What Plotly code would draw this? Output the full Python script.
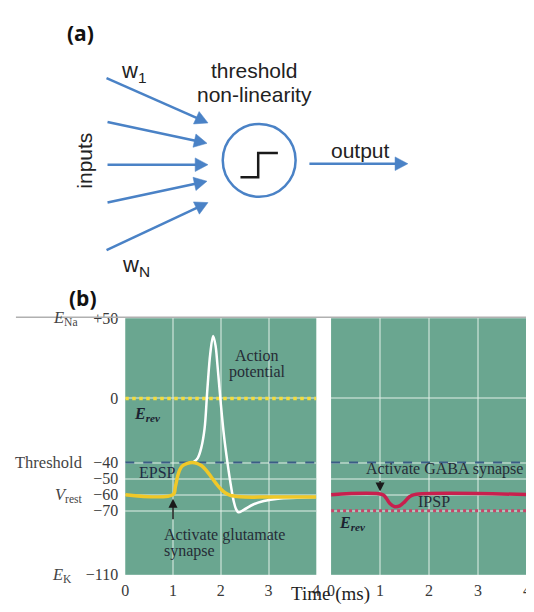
import math
import plotly.graph_objects as go

# ---------------- data ----------------
time_ticks = [0, 1, 2, 3, 4]
mv_tickvals = [50, 0, -40, -50, -60, -70, -110]
mv_ticktext = ["+50", "0", "\u221240", "\u221250", "\u221260", "\u221270", "\u2212110"]
level_names = ["<i>E</i><sub>Na</sub>", "Threshold", "<i>V</i><sub>rest</sub>", "<i>E</i><sub>K</sub>"]
level_values = [50, -40, -60, -110]

threshold_mv = -40
epsp_erev_mv = 0
ipsp_erev_mv = -70
time_span = [0, 4]
time_span_right = [0, 4.06]

epsp_t = [0, 1.0, 1.05, 1.1, 1.15, 1.2, 1.3, 1.4, 1.5, 1.6, 1.7, 1.8, 1.9, 2.0, 2.1, 2.2, 2.3, 2.5, 3.0, 4.0]
epsp_v = [-60, -60, -55, -48, -44, -42, -40.5, -40, -40.5, -42, -45, -49, -53, -56.5, -59, -60.5, -61, -61.5, -61.5, -61.5]

ap_t = [1.40, 1.46, 1.52, 1.59, 1.66, 1.72, 1.78, 1.84, 1.89, 1.93, 2.00, 2.07, 2.14, 2.21, 2.27, 2.32, 2.37, 2.48, 2.69, 2.9, 3.2, 3.6, 4.0]
ap_v = [-40, -39, -37, -31, -19, 6, 28, 39, 33, 21, -3, -24, -40, -54, -64, -69, -71, -69.5, -66, -64, -62.5, -62, -61.5]

ipsp_t = [0, 1.05, 1.12, 1.2, 1.3, 1.4, 1.5, 1.6, 1.7, 4.06]
ipsp_v = [-60, -60, -62, -65.5, -67.5, -67, -64.5, -61.3, -60, -60]

# ---------------- styling ----------------
# the page body has an 8px margin; the figure fills the rest of the window
OFF = 8
W, H = 534 - OFF, 612 - OFF
GREEN = "#6aa690"
GRID = "rgba(225,240,232,0.5)"
BLUE = "#4a82c6"
SERIF = "Liberation Serif"
SANS = "Liberation Sans"
DARK = "#262c36"


def px(x):
    return (x - OFF) / W


def py(y):
    return 1 - (y - OFF) / H


fig = go.Figure()

# ---------------- panel (b) traces ----------------
fig.add_trace(go.Scatter(x=time_span, y=[epsp_erev_mv] * 2, mode="lines",
                         line=dict(color="#f3dc3c", width=3.5, dash="dot"),
                         xaxis="x", yaxis="y", hoverinfo="skip"))
fig.add_trace(go.Scatter(x=time_span, y=[threshold_mv] * 2, mode="lines",
                         line=dict(color="#3b5d86", width=2, dash="dash"),
                         xaxis="x", yaxis="y", hoverinfo="skip"))
fig.add_trace(go.Scatter(x=ap_t, y=ap_v, mode="lines", line_shape="spline",
                         line=dict(color="white", width=2.5),
                         xaxis="x", yaxis="y", hoverinfo="skip"))
fig.add_trace(go.Scatter(x=epsp_t, y=epsp_v, mode="lines", line_shape="spline",
                         line=dict(color="#f0c828", width=3.5),
                         xaxis="x", yaxis="y", hoverinfo="skip"))
fig.add_trace(go.Scatter(x=time_span_right, y=[threshold_mv] * 2, mode="lines",
                         line=dict(color="#3b5d86", width=2, dash="dash"),
                         xaxis="x2", yaxis="y2", hoverinfo="skip"))
fig.add_trace(go.Scatter(x=time_span_right, y=[ipsp_erev_mv] * 2, mode="lines",
                         line=dict(color="#c9446a", width=3, dash="dot"),
                         xaxis="x2", yaxis="y2", hoverinfo="skip"))
fig.add_trace(go.Scatter(x=ipsp_t, y=ipsp_v, mode="lines", line_shape="spline",
                         line=dict(color="#c8204e", width=3.5),
                         xaxis="x2", yaxis="y2", hoverinfo="skip"))

axis_common = dict(showline=False, zeroline=False, ticks="", showgrid=True,
                   gridcolor=GRID, gridwidth=1.5,
                   tickfont=dict(family=SERIF, size=16, color="#3a3a3a"))
ydom = [py(583), py(319)]
fig.update_layout(
    xaxis=dict(domain=[px(123), px(317)], range=time_span, tickvals=time_ticks,
               anchor="y", ticklabelstandoff=4, **axis_common),
    yaxis=dict(domain=ydom, range=[-110, 50], tickvals=mv_tickvals, ticktext=mv_ticktext,
               anchor="x", ticklabelstandoff=6, **axis_common),
    xaxis2=dict(domain=[px(332), 1], range=time_span_right, tickvals=time_ticks,
                anchor="y2", ticklabelstandoff=4, **axis_common),
    yaxis2=dict(domain=ydom, range=[-110, 50], tickvals=mv_tickvals, showticklabels=False,
                anchor="x2", **axis_common),
)

annotations = []
shapes = []

# level names left of the y-axis numbers
name_right_px = [77, 82, 82, 71]
for name, val, xr in zip(level_names, level_values, name_right_px):
    annotations.append(dict(text=name, x=px(xr), y=val, xref="paper", yref="y",
                            xanchor="right", yanchor="middle", showarrow=False,
                            font=dict(family=SERIF, size=16.5, color="#444")))


def text(t, x, y, size, family=SERIF, color=DARK, xanchor="center", align="center", **kw):
    annotations.append(dict(text=t, x=px(x), y=py(y), xref="paper", yref="paper",
                            xanchor=xanchor, yanchor="middle", showarrow=False, align=align,
                            font=dict(family=family, size=size, color=color), **kw))


# panel (b) labels
text("Action", 257, 357, 16)
text("potential", 257, 374, 16)
text("EPSP", 156, 478, 16, color="#1f2a44")
text("<b><i>E<sub>rev</sub></i></b>", 130, 418, 16, xanchor="left", color="#1c2230")
text("Activate glutamate", 160, 542, 16, xanchor="left")
text("synapse", 160, 558, 16, xanchor="left")
text("Activate GABA synapse", 447, 474, 16)
text("IPSP", 437, 508, 16)
text("<b><i>E<sub>rev</sub></i></b>", 338, 530, 16, xanchor="left", color="#1c2230")
text("Time (ms)", 331, 603, 19, color="#222")
text("<b>(b)</b>", 80, 298, 21, family="Open Sans", color="#111")

# stimulus arrows at t = 1 ms
annotations.append(dict(x=1, y=-62.5, xref="x", yref="y", ax=0, ay=22, text="",
                        showarrow=True, arrowhead=2, arrowsize=1.2, arrowwidth=1.5,
                        arrowcolor="#1a1a1a"))
annotations.append(dict(x=1, y=-58, xref="x2", yref="y2", ax=0, ay=-12, text="",
                        showarrow=True, arrowhead=2, arrowsize=1.2, arrowwidth=1.5,
                        arrowcolor="#1a1a1a"))

# separator line above panel (b)
shapes.append(dict(type="line", xref="paper", yref="paper", x0=px(12), x1=1,
                   y0=py(318), y1=py(318), line=dict(color="#b0b0b0", width=1.5)))

# ---------------- panel (a) diagram ----------------
text("<b>(a)</b>", 78, 26, 21, family="Open Sans", color="#111")
text("w<sub>1</sub>", 131, 66, 22, family=SANS, color="#222")
text("w<sub>N</sub>", 134, 265, 22, family=SANS, color="#222")
text("threshold", 254, 64, 21, family=SANS, color="#222")
text("non-linearity", 254, 89, 21, family=SANS, color="#222")
text("output", 362, 146, 21, family=SANS, color="#222")
annotations.append(dict(text="inputs", x=px(82), y=py(157), xref="paper", yref="paper",
                        showarrow=False, textangle=-90, xanchor="center", yanchor="middle",
                        font=dict(family=SANS, size=21, color="#222")))


def arrow(x0, y0, x1, y1, color=BLUE, width=2.5, head_len=13, head_w=7):
    dx, dy = x1 - x0, y1 - y0
    L = math.hypot(dx, dy)
    ux, uy = dx / L, dy / L
    bx, by = x1 - ux * head_len, y1 - uy * head_len
    shapes.append(dict(type="line", xref="paper", yref="paper",
                       x0=px(x0), y0=py(y0), x1=px(bx + ux), y1=py(by + uy),
                       line=dict(color=color, width=width)))
    p1 = (bx - uy * head_w, by + ux * head_w)
    p2 = (bx + uy * head_w, by - ux * head_w)
    path = "M {} {} L {} {} L {} {} Z".format(px(x1), py(y1), px(p1[0]), py(p1[1]),
                                             px(p2[0]), py(p2[1]))
    shapes.append(dict(type="path", xref="paper", yref="paper", path=path,
                       fillcolor=color, line=dict(color=color, width=0.5)))


in_arrows = [((104, 72), (207, 118)), ((105, 117), (206, 139)), ((105, 161), (207, 161)),
             ((105, 200), (206, 178)), ((104, 249), (207, 200))]
for (a, b) in in_arrows:
    arrow(a[0], a[1], b[0], b[1])
arrow(310, 160, 410, 160)

# neuron circle with step function
shapes.append(dict(type="circle", xref="paper", yref="paper",
                   x0=px(222), x1=px(296), y0=py(119), y1=py(194),
                   line=dict(color=BLUE, width=2.5)))
step_pts = [(240, 174), (258, 174), (258, 149), (278, 149)]
step_path = "M " + " L ".join("{} {}".format(px(x), py(y)) for x, y in step_pts)
shapes.append(dict(type="path", xref="paper", yref="paper", path=step_path,
                   line=dict(color="#1a1a1a", width=2.5)))

fig.update_layout(
    width=W, height=H, margin=dict(l=0, r=0, t=0, b=0),
    paper_bgcolor="white", plot_bgcolor=GREEN, showlegend=False,
    annotations=annotations, shapes=shapes,
)

fig.write_html("out.html")
